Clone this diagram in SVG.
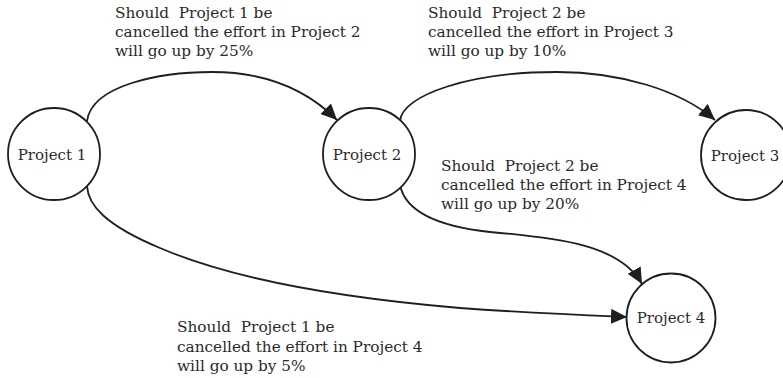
<svg xmlns="http://www.w3.org/2000/svg" width="783" height="378" viewBox="0 0 783 378">
  <defs>
    <style>
      .node circle { fill: #ffffff; stroke: #1e1e1e; stroke-width: 1.8; }
      .node text { font-family: "DejaVu Serif", "Liberation Serif", serif; font-size: 15px; fill: #2a2a2a; text-anchor: middle; }
      .label { font-family: "DejaVu Serif", "Liberation Serif", serif; font-size: 15.3px; fill: #2a2a2a; white-space: pre; }
      .edge { fill: none; stroke: #1e1e1e; stroke-width: 1.8; marker-end: url(#arrow); }
    </style>
    <marker id="arrow" markerUnits="userSpaceOnUse" markerWidth="18" markerHeight="16" refX="16" refY="7.5" orient="auto">
      <path d="M0,0 L16,7.5 L0,15 Z" fill="#1e1e1e"/>
    </marker>
  </defs>

  <!-- connectors -->
  <g id="edges">
    <path class="edge" d="M87,121 C92,85 160,72 212,72 C262,72 305,88 337,120"/>
    <path class="edge" d="M400,121 C402,95 470,72 557,72 C620,72 680,90 715,120"/>
    <path class="edge" d="M87,186 C88,205 105,225 160,248 C230,278 330,297 460,308 C530,313 580,315 627,317"/>
    <path class="edge" d="M400,185 C404,205 425,225 490,232 C560,238 620,245 642,284"/>
  </g>

  <!-- nodes -->
  <g id="project1" class="node">
    <circle cx="54" cy="154" r="46"/>
    <text x="52" y="160">Project 1</text>
  </g>
  <g id="project2" class="node">
    <circle cx="369" cy="154" r="46"/>
    <text x="367" y="160">Project 2</text>
  </g>
  <g id="project3" class="node">
    <circle cx="746" cy="155" r="45"/>
    <text x="745" y="161">Project 3</text>
  </g>
  <g id="project4" class="node">
    <circle cx="671" cy="318" r="44.5"/>
    <text x="671" y="323">Project 4</text>
  </g>

  <!-- edge labels -->
  <g id="labels">
    <text class="label" x="115" y="18">Should  Project 1 be</text>
    <text class="label" x="115" y="37">cancelled the effort in Project 2</text>
    <text class="label" x="115" y="56">will go up by 25%</text>

    <text class="label" x="428" y="18">Should  Project 2 be</text>
    <text class="label" x="428" y="37">cancelled the effort in Project 3</text>
    <text class="label" x="428" y="56">will go up by 10%</text>

    <text class="label" x="441" y="171">Should  Project 2 be</text>
    <text class="label" x="441" y="190">cancelled the effort in Project 4</text>
    <text class="label" x="441" y="209">will go up by 20%</text>

    <text class="label" x="177" y="332">Should  Project 1 be</text>
    <text class="label" x="177" y="352">cancelled the effort in Project 4</text>
    <text class="label" x="177" y="371">will go up by 5%</text>
  </g>
</svg>
